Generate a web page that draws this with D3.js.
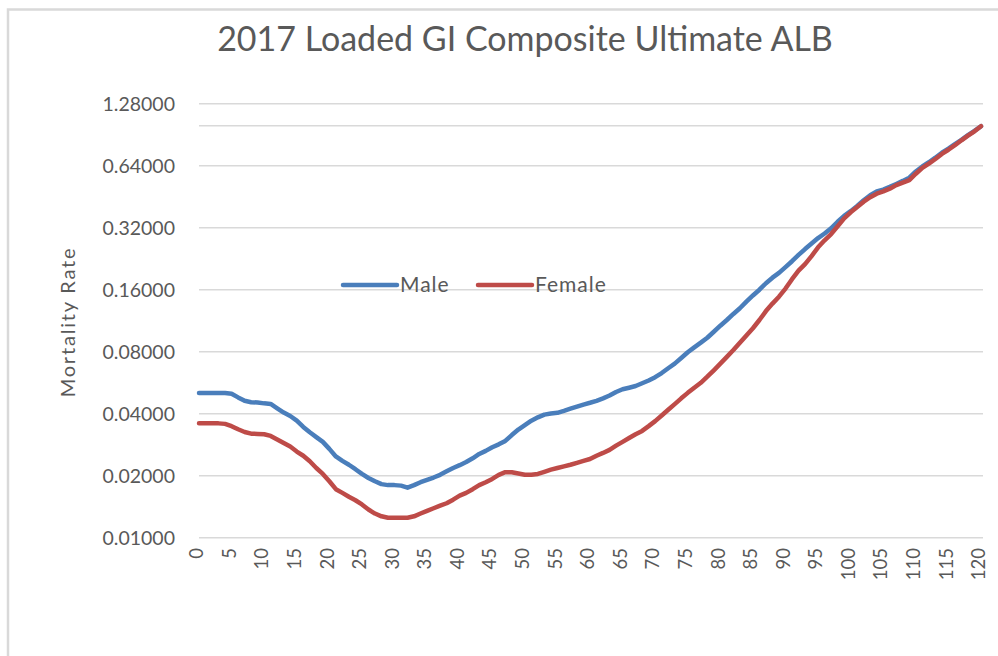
<!DOCTYPE html>
<html><head><meta charset="utf-8">
<script src="https://cdn.jsdelivr.net/npm/d3@7"></script>
<style>body{margin:0;background:#fff;} svg{display:block;} text{font-family:Lato,"Open Sans",sans-serif;fill:#595959;}</style>
</head><body>
<svg id="chart" width="998" height="656"></svg>
<script>
const title = "2017 Loaded GI Composite Ultimate ALB";
const yAxisTitle = "Mortality Rate";
const seriesNames = ["Male", "Female"];
const seriesColors = ["#4a7ebb", "#be4b48"];
const ages = d3.range(0, 121);
const xTickLabels = ["0","5","10","15","20","25","30","35","40","45","50","55","60","65","70","75","80","85","90","95","100","105","110","115","120"];
const yTickValues = [0.01,0.02,0.04,0.08,0.16,0.32,0.64,1.28];
const yTickLabels = ["0.01000","0.02000","0.04000","0.08000","0.16000","0.32000","0.64000","1.28000"];
const extraGrid = [1.0];
const male = [
0.0504,0.0504,0.0504,0.0504,0.0504,0.0500,0.0480,0.0462,0.0455,0.0453,
0.0449,0.0446,0.0425,0.0405,0.0390,0.0370,0.0345,0.0325,0.0308,0.0292,
0.0270,0.0248,0.0236,0.0226,0.0215,0.0204,0.0195,0.0188,0.0182,0.0180,
0.0180,0.0179,0.0175,0.0180,0.0186,0.0191,0.0196,0.0202,0.0210,0.0218,
0.0225,0.0233,0.0243,0.0255,0.0264,0.0275,0.0284,0.0295,0.0315,0.0335,
0.0352,0.0370,0.0384,0.0396,0.0401,0.0404,0.0413,0.0423,0.0433,0.0443,
0.0452,0.0462,0.0475,0.0490,0.0510,0.0526,0.0535,0.0545,0.0562,0.0580,
0.0602,0.0630,0.0665,0.0700,0.0745,0.0795,0.0840,0.0885,0.0935,0.1000,
0.1070,0.1140,0.1220,0.1300,0.1400,0.1500,0.1600,0.1720,0.1830,0.1930,
0.2060,0.2200,0.2360,0.2520,0.2680,0.2850,0.3000,0.3180,0.3420,0.3650,
0.3850,0.4080,0.4350,0.4600,0.4800,0.4900,0.5050,0.5220,0.5400,0.5600,
0.6000,0.6350,0.6650,0.7000,0.7400,0.7750,0.8150,0.8550,0.9000,0.9450,
0.9950];
const female = [
0.0359,0.0359,0.0359,0.0359,0.0357,0.0348,0.0336,0.0326,0.0320,0.0319,
0.0318,0.0312,0.0300,0.0288,0.0277,0.0262,0.0250,0.0235,0.0218,0.0204,
0.0188,0.0172,0.0165,0.0158,0.0152,0.0145,0.0137,0.0131,0.0127,0.0125,
0.0125,0.0125,0.0125,0.0127,0.0131,0.0135,0.0139,0.0143,0.0147,0.0153,
0.0160,0.0165,0.0172,0.0180,0.0186,0.0193,0.0202,0.0208,0.0208,0.0205,
0.0202,0.0202,0.0204,0.0209,0.0214,0.0218,0.0222,0.0226,0.0231,0.0236,
0.0241,0.0250,0.0258,0.0267,0.0280,0.0292,0.0305,0.0318,0.0330,0.0348,
0.0368,0.0392,0.0418,0.0445,0.0475,0.0505,0.0535,0.0565,0.0605,0.0650,
0.0700,0.0755,0.0815,0.0885,0.0960,0.1040,0.1140,0.1260,0.1370,0.1480,
0.1620,0.1800,0.1980,0.2130,0.2330,0.2570,0.2780,0.2980,0.3250,0.3550,
0.3800,0.4030,0.4280,0.4500,0.4680,0.4800,0.4950,0.5150,0.5300,0.5450,
0.5850,0.6250,0.6550,0.6900,0.7300,0.7650,0.8050,0.8500,0.8950,0.9400,
0.9950];

const svg = d3.select("#chart");
// chart border (top and left visible)
svg.append("path").attr("d","M8,1000 L8,9.5 L1000,9.5").attr("fill","none").attr("stroke","#d9d9d9").attr("stroke-width",2.5);

const x = d3.scaleLinear().domain([0,120]).range([199,981]);
const y = d3.scaleLog().base(2).domain([0.01,1.28]).range([537.7,103.7]);

// gridlines
const gridVals = yTickValues.concat(extraGrid);
svg.append("g").selectAll("line").data(gridVals).join("line")
  .attr("x1",199).attr("x2",983)
  .attr("y1",d=>y(d)).attr("y2",d=>y(d))
  .attr("stroke","#d9d9d9").attr("stroke-width",1.5);

// y axis labels
const yAxis = d3.axisLeft(y).tickValues(yTickValues).tickFormat((d,i)=>yTickLabels[i]).tickSize(0).tickPadding(0);
const gy = svg.append("g").attr("transform","translate(175,0)").call(yAxis);
gy.select(".domain").remove();
gy.selectAll("text").style("font-size","19.5px").attr("fill","#595959").attr("dy","0.36em");

// x axis labels
const xAxis = d3.axisBottom(x).tickValues(xTickLabels.map(Number)).tickFormat((d,i)=>xTickLabels[i]).tickSize(0).tickPadding(0);
const gx = svg.append("g").attr("transform","translate(0,548)").call(xAxis);
gx.select(".domain").remove();
gx.selectAll("text").style("font-size","18.5px").attr("fill","#595959")
  .attr("transform","rotate(-90) translate(0,-3)")
  .attr("text-anchor","end").attr("x",0).attr("y",0).attr("dy","0.36em");

// lines
const line = d3.line().x((d,i)=>x(ages[i])).y(d=>y(d));
[male, female].forEach((s,k)=>{
  svg.append("path").datum(s).attr("d",line).attr("fill","none")
    .attr("stroke",seriesColors[k]).attr("stroke-width",4.5)
    .attr("stroke-linejoin","round").attr("stroke-linecap","round");
});

// title
svg.append("text").attr("x",525).attr("y",51).attr("text-anchor","middle")
  .style("font-size","34px").text(title);

// y axis title
svg.append("text").attr("transform","translate(75,322) rotate(-90)").attr("text-anchor","middle")
  .style("font-size","20px").style("letter-spacing","1.8px").text(yAxisTitle);

// legend
const legendX = [343, 478];
seriesNames.forEach((n,k)=>{
  svg.append("line").attr("x1",legendX[k]).attr("x2",legendX[k]+54).attr("y1",285).attr("y2",285)
    .attr("stroke",seriesColors[k]).attr("stroke-width",4.5).attr("stroke-linecap","round");
  svg.append("text").attr("x",legendX[k]+57).attr("y",292).style("font-size","21px").style("letter-spacing","1px").text(n);
});
</script>
</body></html>
